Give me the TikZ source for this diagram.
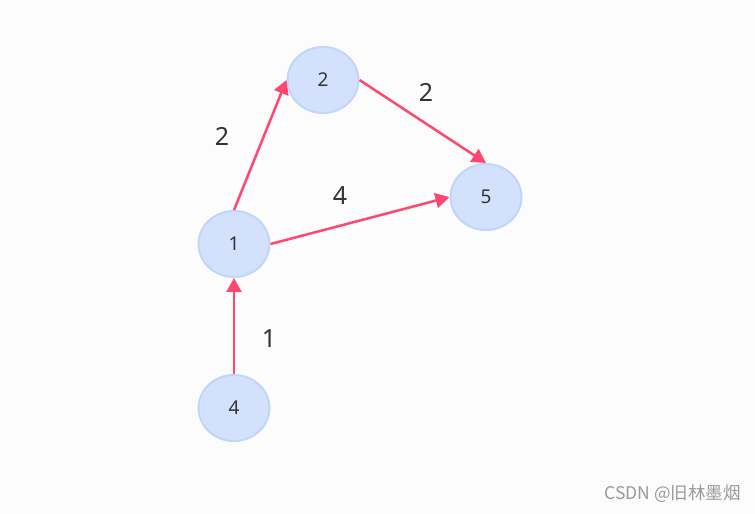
\documentclass[tikz,border=0pt]{standalone}
\usepackage{fontspec}
\setmainfont{Noto Sans}
\newfontfamily\cjkfont{Noto Sans CJK SC}
\usetikzlibrary{arrows.meta,shapes.geometric}
\definecolor{bgc}{HTML}{FCFCFC}
\definecolor{nodefill}{HTML}{D3E1FD}
\definecolor{nodeedge}{HTML}{C2D5FA}
\definecolor{edgec}{HTML}{FF4870}
\definecolor{txt}{HTML}{333333}
\definecolor{wm}{HTML}{9A9A9A}
\tikzset{
  vnode/.style={ellipse, fill=nodefill, draw=nodeedge, line width=2pt,
    minimum width=71pt, minimum height=66pt, inner sep=0pt,
    font=\fontsize{19}{19}\selectfont, text=txt},
  wedge/.style={draw=edgec, line width=2.5pt,
    -{Triangle[length=14pt,width=15pt]}},
  wlabel/.style={font=\fontsize{25}{25}\selectfont, text=txt, inner sep=0pt}
}
\begin{document}
\begin{tikzpicture}[x=1pt,y=1pt]
\fill[bgc] (0,0) rectangle (755,514);
\useasboundingbox (0,0) rectangle (755,514);
\node[vnode] (n2) at (323,434) {2};
\node[vnode] (n5) at (486,317) {5};
\node[vnode] (n1) at (234,270) {1};
\node[vnode] (n4) at (234,106) {4};
\draw[wedge] (n1.north) -- (n2.west);
\draw[wedge] (n2.east) -- (n5.north);
\draw[wedge] (n1.east) -- (n5.west);
\draw[wedge] (n4.north) -- (n1.south);
\node[wlabel] (l12) at (222,378) {2};
\node[wlabel] (l25) at (426,422) {2};
\node[wlabel] (l15) at (340,318) {4};
\node[wlabel] (l41) at (269,175) {1};
\node[font=\cjkfont\fontsize{17.5}{17.5}\selectfont, text=wm, anchor=east, inner sep=0pt] (wmk) at (741,20) {CSDN @旧林墨烟};
\end{tikzpicture}
\end{document}
